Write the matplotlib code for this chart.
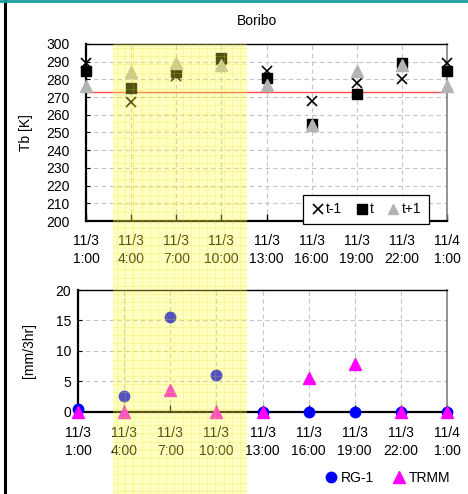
import matplotlib
matplotlib.use("Agg")
import matplotlib.pyplot as plt
from matplotlib.patches import Rectangle
from matplotlib.lines import Line2D
import numpy as np

plt.rcParams['font.family'] = ['Liberation Sans', 'DejaVu Sans']

# ---- data ----
tick_labels = ["11/3\n1:00", "11/3\n4:00", "11/3\n7:00", "11/3\n10:00", "11/3\n13:00",
               "11/3\n16:00", "11/3\n19:00", "11/3\n22:00", "11/4\n1:00"]
tb_prev = [289, 267, 282, 291, 285, 268, 278, 280, 289]   # t-1
tb_now = [285, 275, 284, 292, 281, 255, 272, 289, 285]    # t
tb_next = [276, 284, 289, 288, 277, 254, 285, 288, 276]   # t+1
threshold = 273
rg1 = [0.5, 2.5, 15.5, 6.0, 0, 0, 0, 0, 0]
trmm = [0, 0, 3.5, 0, 0, 5.5, 7.8, 0, 0]

x = np.arange(len(tick_labels))

W, H = 468, 494
fig = plt.figure(figsize=(W / 100, H / 100), dpi=100)
fig.patch.set_facecolor('white')

def fx(px):
    return px / W

def fy(py):
    return 1 - py / H

FS = 10

ax1 = fig.add_axes([fx(86), fy(221), fx(447) - fx(86), fy(44) - fy(221)])
ax2 = fig.add_axes([fx(78), fy(411.7), fx(447) - fx(78), fy(290) - fy(411.7)])

grid_kw = dict(color='#c4c4c4', lw=0.8, linestyle=(0, (4, 3)))

for ax in (ax1, ax2):
    ax.set_facecolor('none')
    ax.set_xlim(0, len(x) - 1)
    ax.set_xticks(x)
    ax.set_xticklabels(tick_labels, fontsize=FS, linespacing=1.4)
    ax.grid(True, **grid_kw)
    ax.set_axisbelow(True)
    ax.spines['left'].set_linewidth(1.6)
    ax.spines['bottom'].set_linewidth(1.6)
    ax.spines['top'].set_linewidth(1.0)
    ax.spines['right'].set_linewidth(1.2)
    ax.spines['right'].set_color('#808080')
    ax.tick_params(axis='x', direction='in', length=5, width=1, pad=9)
    ax.tick_params(axis='y', direction='in', length=3, width=0.8, labelsize=FS)

# upper panel
ax1.set_ylim(200, 300)
ax1.set_yticks(np.arange(200, 301, 10))
ax1.tick_params(axis='y', pad=12)
ax1.axhline(threshold, color='#ff4d4d', lw=1.0, zorder=2)
ax1.plot(x, tb_prev, linestyle='none', marker='x', ms=7.5, mew=1.2, color='black',
         clip_on=False, zorder=3, label='t-1')
ax1.plot(x, tb_now, linestyle='none', marker='s', ms=7.5, color='black',
         clip_on=False, zorder=4, label='t')
ax1.plot(x, tb_next, linestyle='none', marker='^', ms=8, color='#b4b4b4',
         clip_on=False, zorder=5, label='t+1')
ax1.set_ylabel('Tb [K]', fontsize=FS)
ax1.yaxis.set_label_coords(-(86 - 33) / (447 - 86), 0.5)
leg1 = ax1.legend(loc='center', bbox_to_anchor=(fx(366), fy(209.5)),
                  bbox_transform=fig.transFigure, ncol=3, fontsize=FS,
                  frameon=True, fancybox=False, edgecolor='black', framealpha=1,
                  handlelength=1.0, handletextpad=0.1, columnspacing=0.9,
                  borderpad=0.55, markerscale=0.9)
leg1.get_frame().set_linewidth(0.9)
leg1.set_zorder(6)

# lower panel
ax2.set_ylim(0, 20)
ax2.set_yticks([0, 5, 10, 15, 20])
ax2.tick_params(axis='y', pad=5)
ax2.plot(x, rg1, linestyle='none', marker='o', ms=7.5, color='#0000ff',
         clip_on=False, zorder=3, label='RG-1')
ax2.plot(x, trmm, linestyle='none', marker='^', ms=8, color='#ff00ff',
         clip_on=False, zorder=4, label='TRMM')
ax2.set_ylabel('[mm/3hr]', fontsize=FS)
ax2.yaxis.set_label_coords(-(78 - 36) / (447 - 78), 0.5)
ax2.tick_params(axis='x', pad=10)
ax2.legend(loc='center', bbox_to_anchor=(fx(388), fy(478)),
           bbox_transform=fig.transFigure, ncol=2, fontsize=FS, frameon=False,
           handlelength=0.8, handletextpad=0.3, columnspacing=1.4)

fig.text(fx(257), fy(21), 'Boribo', ha='center', va='center', fontsize=FS)

# highlighted period overlay
bx0, bx1, by0 = 113, 247, 44
fig.add_artist(Rectangle((fx(bx0), 0), fx(bx1) - fx(bx0), fy(by0),
                         transform=fig.transFigure, facecolor='#ffff40',
                         alpha=0.32, edgecolor='none', zorder=10))
for gx in np.arange(bx0 + 4, bx1, 8.2):
    fig.add_artist(Line2D([fx(gx), fx(gx)], [0, fy(by0)], transform=fig.transFigure,
                          color='#e0e000', lw=0.5, alpha=0.3, zorder=11))
for gy in np.arange(by0 + 4, H, 8.2):
    fig.add_artist(Line2D([fx(bx0), fx(bx1)], [fy(gy), fy(gy)], transform=fig.transFigure,
                          color='#e0e000', lw=0.5, alpha=0.3, zorder=11))

# figure frame lines
fig.add_artist(Line2D([fx(5), fx(5)], [0, 1], transform=fig.transFigure,
                      color='black', lw=2.2, zorder=12))
fig.add_artist(Line2D([0, 1], [fy(1), fy(1)], transform=fig.transFigure,
                      color='#1a9e9e', lw=2.0, zorder=12))

fig.savefig('out.png', dpi=100)
